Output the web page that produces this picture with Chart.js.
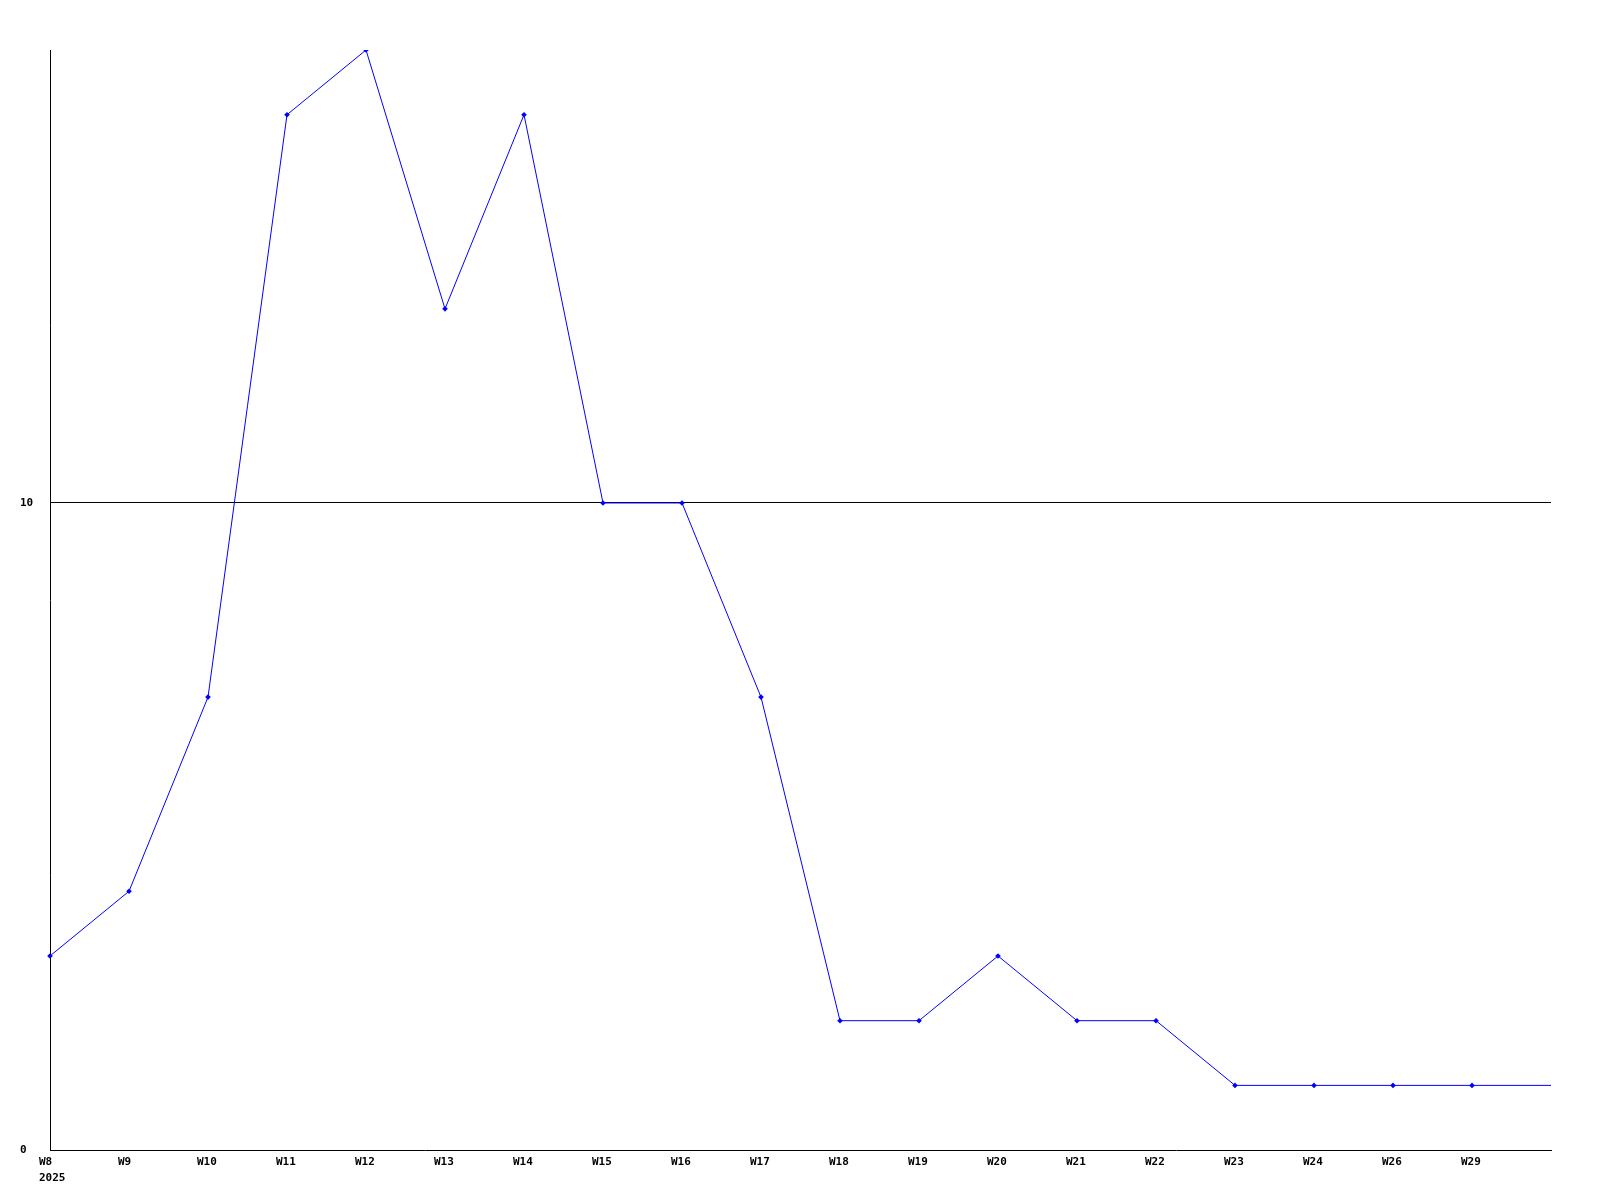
<!DOCTYPE html>
<html>
<head>
<meta charset="utf-8">
<script src="https://cdn.jsdelivr.net/npm/chart.js@4.4.1/dist/chart.umd.min.js"></script>
<style>
  html, body { margin: 0; padding: 0; background: #ffffff; }
  #wrap { width: 1600px; height: 1200px; }
</style>
</head>
<body>
<div id="wrap"><canvas id="weeklyChart" width="1600" height="1200"></canvas></div>
<script>
// Semanas (la última categoría vacía es el borde derecho del eje)
const weekLabels = [['W8', '2025'], 'W9', 'W10', 'W11', 'W12', 'W13', 'W14', 'W15', 'W16', 'W17',
    'W18', 'W19', 'W20', 'W21', 'W22', 'W23', 'W24', 'W26', 'W29', ''];
const weekCounts = [3, 4, 7, 16, 17, 13, 16, 10, 10, 7, 2, 2, 3, 2, 2, 1, 1, 1, 1, 1];
const yTickValues = [0, 10];
const yMax = 17;

document.addEventListener('DOMContentLoaded', function() {
    const ctx = document.getElementById('weeklyChart').getContext('2d');
    const tickFont = { family: '"DejaVu Sans Mono", monospace', size: 11, weight: 'bold', lineHeight: 1.45 };

    new Chart(ctx, {
        type: 'line',
        data: {
            labels: weekLabels,
            datasets: [{
                data: weekCounts,
                borderColor: '#0000ff',
                backgroundColor: '#0000ff',
                borderWidth: 1,
                tension: 0,
                fill: false,
                pointStyle: 'rectRot',
                // sin marcador en el punto final (extensión hasta el borde)
                pointRadius: ctx => ctx.dataIndex === weekCounts.length - 1 ? 0 : 2.8,
                pointBorderWidth: 0
            }]
        },
        options: {
            responsive: false,
            animation: false,
            layout: { padding: { top: 50, left: 20, right: 49, bottom: 10 } },
            plugins: {
                legend: { display: false },
                tooltip: { enabled: false }
            },
            scales: {
                x: {
                    offset: false,
                    grid: { display: false, drawTicks: false },
                    border: { display: true, color: '#000000', width: 1 },
                    ticks: {
                        color: '#000000',
                        font: tickFont,
                        autoSkip: false,
                        maxRotation: 0,
                        align: 'start',
                        labelOffset: -11,
                        padding: 4
                    }
                },
                y: {
                    min: 0,
                    max: yMax,
                    afterBuildTicks: axis => {
                        axis.ticks = yTickValues.map(v => ({ value: v }));
                    },
                    afterFit: axis => {
                        axis.width = 30;
                    },
                    grid: {
                        drawTicks: false,
                        color: ctx => ctx.tick && ctx.tick.value === 10 ? '#000000' : 'rgba(0,0,0,0)',
                        lineWidth: 1
                    },
                    border: { display: true, color: '#000000', width: 1 },
                    ticks: {
                        color: '#000000',
                        font: tickFont,
                        crossAlign: 'far',
                        padding: 0
                    }
                }
            }
        }
    });
});
</script>
</body>
</html>
